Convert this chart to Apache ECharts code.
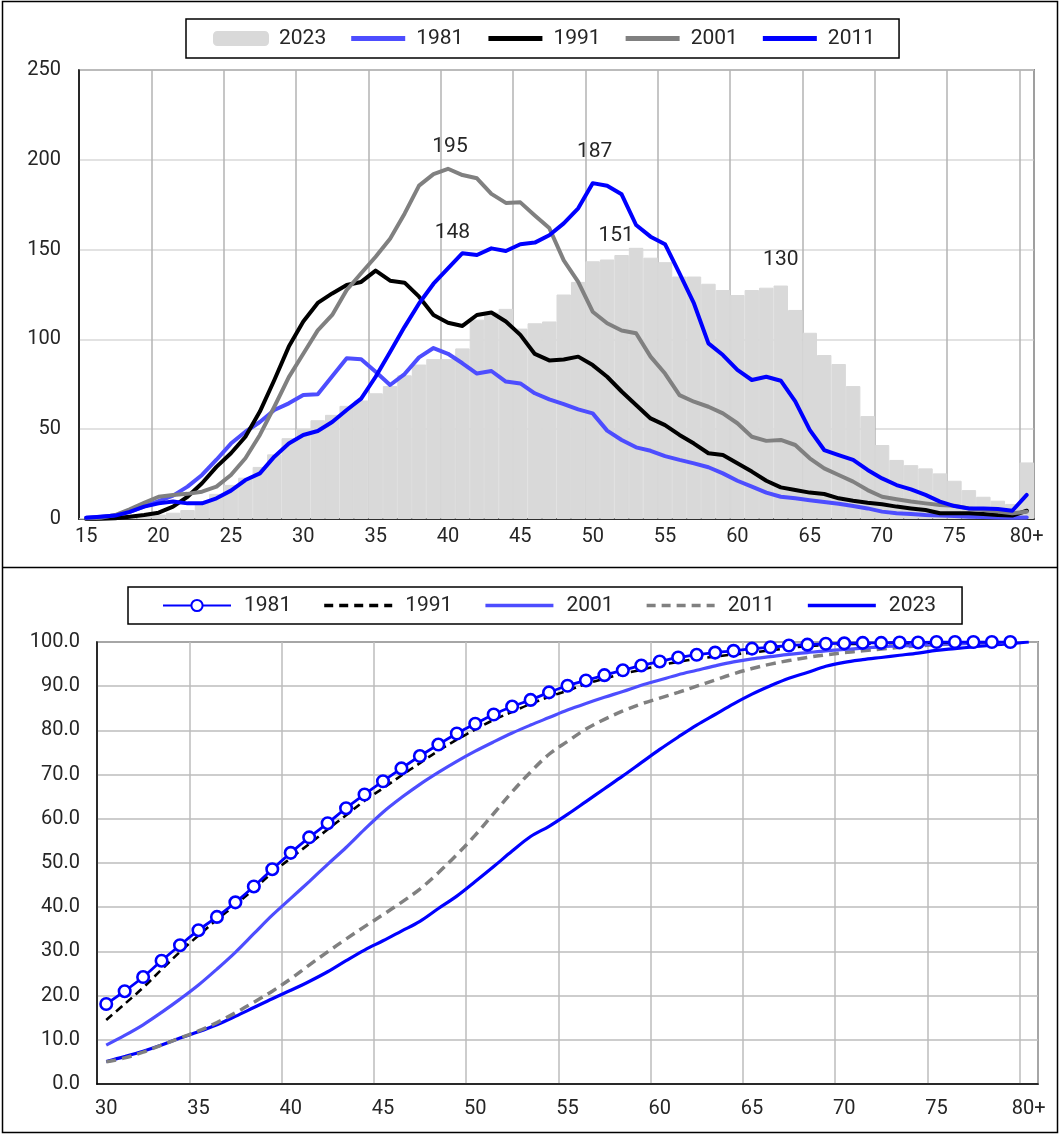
<!DOCTYPE html>
<html><head><meta charset="utf-8">
<script src="https://cdn.jsdelivr.net/npm/echarts@6/dist/echarts.min.js"></script>
<style>html,body{margin:0;padding:0;background:#fff}#c{width:1060px;height:1134px}</style>
</head><body><div id="c"></div>
<script>
// ---------- Top chart: distribution by age ----------
const agesTop = ['15','16','17','18','19','20','21','22','23','24','25','26','27','28','29','30','31','32','33','34','35','36','37','38','39','40','41','42','43','44','45','46','47','48','49','50','51','52','53','54','55','56','57','58','59','60','61','62','63','64','65','66','67','68','69','70','71','72','73','74','75','76','77','78','79','80+'];
const pop2023 = [0.3,0.5,0.8,1.2,1.8, 2.5,3.5,5,9,14, 19,23,29,36,45, 50,55,58,63,66, 70,74,80,86,89, 89,95,111,115,117, 106,109,110,125,132, 143.5,144.5,147,151,145.5, 143,135,135,131,127.5, 124.7,127.5,128.8,130,116.4, 103.7,91.3,86.3,74,57.3, 41.2,32.9,30,28.2,25.4, 21.3,16.1,12.4,10.2,8.4, 31.5];
const pop1981 = [0.7,1.3,2,4,7, 10,13,18,24.5,33, 42,48.6,54,60.7,64.4, 69,69.5,79.5,89.5,89, 82,74.6,80.7,90,95.2, 92,86.7,81,82.4,76.5, 75.5,70,66.6,64,61, 58.8,49.2,44,39.9,38, 35,32.9,31,28.8,25.4, 21.3,18,14.7,12.4,11.5, 10.5,9.5,8.5,7.2,5.9, 4.1,3.2,2.8,2.2,1.9, 1.7,1.3,1.1,0.9,0.7, 0.9];
const pop1991 = [0,0.1,0.4,1.3,2.2, 3.5,6.9,12.4,19.9,29, 36.6,45.8,59.8,77.4,96, 110,120.3,125.6,130.3,132, 138.3,132.7,131.6,123.8,113.6, 109.3,107.5,113.6,115,110, 102.5,91.9,88.3,88.8,90.4, 85.7,79.2,71,63.5,56, 52.3,46.8,42,36.6,35.6, 31,26.4,21.3,17.6,16.1, 14.7,13.9,11.5,10.2,9.1, 8.2,6.9,5.9,5,3.2, 3.2,3.2,2.8,2.2,1.9, 4.6];
const pop2001 = [0.3,0.7,2.2,5.4,9, 12.4,13.4,14,15.2,18, 24.5,33.8,46.8,62.5,79, 92,105,113.6,127.5,136.8, 146,156,170,185.6,192, 195,191.5,189.7,181,176, 176.3,169,162,144,132, 115.4,109,105,103.4,90.4, 81,69,65.3,62.5,58.8, 53.3,45.8,43.5,44,41.2, 33.8,28.2,24.5,20.8,16.1, 12.4,11,9.7,8.7,7.8, 7.4,5.9,5,4.1,3.2, 4];
const pop2011 = [0.7,1.3,1.9,4,6.9, 8.7,9.7,8.7,8.7,11.5, 15.8,21.7,25.4,34.7,42, 46.8,49,54,60.7,67, 79.2,93,107,120,131, 139.6,148,147,150.7,149.2, 153,153.9,158,164.6,173, 187,185.6,180.8,163.7,157.2, 153,136.8,120,97.8,91.3, 83,77.4,79.2,77,65.5, 49.6,38.4,35.6,32.9,27.3, 22.6,18.9,16.5,13.4,9.7, 7.2,5.9,5.9,5.6,4.6, 13.4];
const topTicks = [0, 50, 100, 150, 200, 250];

// ---------- Bottom chart: cumulative share by age ----------
const agesCum = ['30','31','32','33','34','35','36','37','38','39','40','41','42','43','44','45','46','47','48','49','50','51','52','53','54','55','56','57','58','59','60','61','62','63','64','65','66','67','68','69','70','71','72','73','74','75','76','77','78','79','80+'];
const cum1981 = [18.1,21,24.2,27.9,31.4, 34.8,37.8,41.1,44.7,48.6, 52.3,55.8,59,62.4,65.5, 68.5,71.4,74.2,76.8,79.3, 81.5,83.6,85.4,86.9,88.6, 90.1,91.3,92.5,93.6,94.7, 95.6,96.5,97.1,97.6,98, 98.5,98.8,99.2,99.4,99.6, 99.7,99.8,99.8,99.9,99.9, 100,100,100,100,100];
const cum1991 = [14.5,18.1,21.8,25.9,29.9, 33.6,37.2,40.5,44.1,47.8, 51.1,54.3,57.6,60.8,64.1, 66.9,69.8,72.6,75.4,77.9, 80.2,82.4,84.2,86,87.6, 89,90.5,91.7,92.8,93.7, 94.7,95.5,96.2,96.7,97.2, 97.6,98.1,98.6,99.1,99.3, 99.5,99.6,99.7,99.8,99.8, 99.9,99.9,100,100,100];
const cum2001 = [8.8,11,13.4,16.2,19.2, 22.4,26,29.8,34,38.2, 42,45.8,49.7,53.5,57.6, 61.5,64.8,67.8,70.5,73, 75.3,77.4,79.4,81.2,82.9, 84.6,86.1,87.5,88.8,90.2, 91.4,92.6,93.6,94.6,95.5, 96.2,96.7,97.2,97.6,98, 98.3,98.6,98.9,99.1,99.3, 99.5,99.6,99.7,99.8,99.9];
const cum2011 = [5,5.9,7.2,8.8,10.4, 12,13.9,16.1,18.5,21, 23.8,26.9,29.9,32.8,35.6, 38.3,41.1,44.1,47.8,51.9, 56.3,61.2,66.1,70.6,74.6, 77.5,80.3,82.5,84.4,86, 87.3,88.6,90,91.4,92.8, 94,95,95.8,96.5,97.1, 97.6,98,98.4,98.8,99.1, 99.4,99.6,99.8,99.9,100];
const cum2023 = [5.1,6.2,7.4,8.8,10.4, 11.8,13.4,15.3,17.3,19.3, 21.2,23.2,25.4,27.9,30.3, 32.4,34.6,36.8,39.7,42.5, 45.8,49.2,52.7,56,58.3, 61,63.9,66.8,69.7,72.7, 75.7,78.5,81.2,83.6,86, 88.2,90.1,91.8,93.1,94.5, 95.4,96,96.5,97,97.5, 98.1,98.5,98.9,99.3,99.6, 100];

// annotated values (top chart)
const annotated = [
  {series: '2001', age: '40'},
  {series: '2011', age: '41'},
  {series: '2011', age: '50'},
  {series: '2023', age: '53'},
  {series: '2023', age: '63'}
];

const FONT = 'Roboto, "Liberation Sans", Arial, sans-serif';
const TXT = '#262626';

// label placement per annotation (style, kept out of the data)
const labelStyle = {
  '2001|40': {distance: 11, offset: [2, 0]},
  '2011|41': {distance: 9, offset: [-10, 0]},
  '2011|50': {distance: 20, offset: [2, 0]},
  '2023|53': {distance: 2, offset: [-20, 0]},
  '2023|63': {distance: 15, offset: [0, 0]}
};

function withLabels(name, arr, isLine) {
  return arr.map((v, i) => {
    const a = annotated.find(x => x.series === name && x.age === agesTop[i]);
    if (!a) return v;
    const st = labelStyle[name + '|' + a.age];
    const item = {
      value: v,
      label: {
        show: true, position: 'top', distance: st.distance, offset: st.offset,
        formatter: p => String(Math.round(p.value)), opacity: 1,
        fontFamily: FONT, fontSize: 21, color: TXT
      }
    };
    if (isLine) {
      item.symbol = 'circle';
      item.symbolSize = 1;
      item.itemStyle = {color: 'rgba(0,0,0,0)', borderWidth: 0};
    }
    return item;
  });
}

const topLine = (name, data, color) => ({
  name: name, type: 'line', xAxisIndex: 0, yAxisIndex: 0,
  data: withLabels(name, data, true), symbol: 'none', showSymbol: true,
  lineStyle: {color: color, width: 4, join: 'round', cap: 'round'},
  itemStyle: {color: color}, z: 3, animation: false
});

const cumLine = (name, data, color, width, dash, marker) => ({
  name: 'b' + name, type: 'line', xAxisIndex: 1, yAxisIndex: 1,
  data: data, smooth: 0.35,
  symbol: marker ? 'circle' : 'none', showSymbol: !!marker, symbolSize: 11.5,
  itemStyle: marker ? {color: '#ffffff', borderColor: color, borderWidth: 2.6} : {color: color},
  lineStyle: {color: color, width: width, type: dash || 'solid'},
  z: 3, animation: false
});

// legend icons (pure shapes)
const barLineIcon = 'path://M0,0h54v5h-54z';
const solidIcon = 'path://M0,0h68v3.5h-68z';
const dashIcon = 'path://M0,0h9v3.5h-9zM15,0h9v3.5h-9zM30,0h9v3.5h-9zM45,0h9v3.5h-9zM60,0h8v3.5h-8z';
const legendItem = (name, icon) => icon ? {name: name, icon: icon, itemStyle: {borderWidth: 0}} : {name: name};

const option = {
  animation: false,
  textStyle: {fontFamily: FONT},
  graphic: [
    {type: 'rect', shape: {x: 2.5, y: 1.5, width: 1055, height: 1131}, style: {fill: 'none', stroke: '#000', lineWidth: 1.5}, silent: true},
    {type: 'line', shape: {x1: 2.5, y1: 567.5, x2: 1057.5, y2: 567.5}, style: {stroke: '#000', lineWidth: 1.5}, silent: true}
  ],
  legend: [
    {
      left: 186, top: 19, orient: 'horizontal',
      data: [legendItem('2023'), legendItem('1981', barLineIcon), legendItem('1991', barLineIcon), legendItem('2001', barLineIcon), legendItem('2011', barLineIcon)],
      itemWidth: 54, itemHeight: 13, itemGap: 25,
      padding: [9, 24, 9, 27],
      borderColor: '#000', borderWidth: 1.5, backgroundColor: '#fff',
      textStyle: {fontFamily: FONT, fontSize: 21, color: TXT, padding: [0, 0, 0, 6]}
    },
    {
      left: 128, top: 587, orient: 'horizontal',
      data: [legendItem('b1981'), legendItem('b1991', dashIcon), legendItem('b2001', solidIcon), legendItem('b2011', dashIcon), legendItem('b2023', solidIcon)],
      formatter: n => n.slice(1),
      itemWidth: 68, itemHeight: 14, itemGap: 33,
      padding: [8, 26, 8, 34],
      borderColor: '#000', borderWidth: 1.5, backgroundColor: '#fff',
      textStyle: {fontFamily: FONT, fontSize: 21, color: TXT, padding: [0, 0, 0, 8]}
    }
  ],
  grid: [
    {left: 79, top: 70, width: 955, height: 449, show: true, borderColor: '#333', borderWidth: 1.5, backgroundColor: 'transparent', containLabel: false},
    {left: 97, top: 642, width: 941, height: 442, show: true, borderColor: '#333', borderWidth: 1.5, backgroundColor: 'transparent', containLabel: false}
  ],
  xAxis: [
    {
      type: 'category', gridIndex: 0, data: agesTop, boundaryGap: true,
      axisLine: {show: true, lineStyle: {color: '#000', width: 1.5}},
      axisTick: {show: false, interval: 4},
      axisLabel: {interval: 4, fontFamily: FONT, fontSize: 20, color: TXT, margin: 8},
      splitLine: {show: true, interval: 4, lineStyle: {color: '#b3b3b3', width: 1.5}}
    },
    {
      type: 'category', gridIndex: 1, data: agesCum, boundaryGap: true,
      axisLine: {show: true, lineStyle: {color: '#000', width: 1.5}},
      axisTick: {show: false, interval: 4},
      axisLabel: {interval: 4, fontFamily: FONT, fontSize: 20, color: TXT, margin: 15},
      splitLine: {show: true, interval: 4, lineStyle: {color: '#bdbdbd', width: 1.5}}
    }
  ],
  yAxis: [
    {
      type: 'value', gridIndex: 0, min: topTicks[0], max: topTicks[topTicks.length - 1], interval: 50,
      axisLine: {show: true, lineStyle: {color: '#000', width: 1.5}},
      axisTick: {show: false},
      axisLabel: {fontFamily: FONT, fontSize: 20, color: TXT, margin: 18},
      splitLine: {show: true, lineStyle: {color: '#d9d9d9', width: 1.5}}
    },
    {
      type: 'value', gridIndex: 1, min: 0, max: 100, interval: 10,
      axisLine: {show: true, lineStyle: {color: '#000', width: 1.5}},
      axisTick: {show: false},
      axisLabel: {fontFamily: FONT, fontSize: 20, color: TXT, margin: 17, formatter: v => v.toFixed(1)},
      splitLine: {show: true, lineStyle: {color: '#bdbdbd', width: 1.5}}
    }
  ],
  series: [
    {
      name: '2023', type: 'bar', xAxisIndex: 0, yAxisIndex: 0,
      data: withLabels('2023', pop2023, false), barCategoryGap: '0%', barGap: '0%',
      itemStyle: {color: '#d9d9d9', borderColor: '#d9d9d9', borderWidth: 1}, z: 2, animation: false
    },
    topLine('1981', pop1981, '#4d4dff'),
    topLine('1991', pop1991, '#000000'),
    topLine('2001', pop2001, '#808080'),
    topLine('2011', pop2011, '#0000ff'),
    cumLine('2023', cum2023, '#0000ff', 3.2, null, false),
    cumLine('2011', cum2011, '#808080', 3.5, [10, 6], false),
    cumLine('2001', cum2001, '#4d4dff', 3.2, null, false),
    cumLine('1991', cum1991, '#000000', 2.6, [8, 5], false),
    cumLine('1981', cum1981, '#0000ff', 2.8, null, true)
  ]
};

const chart = echarts.init(document.getElementById('c'), null, {renderer: 'canvas'});
chart.setOption(option);
</script>
</body></html>
